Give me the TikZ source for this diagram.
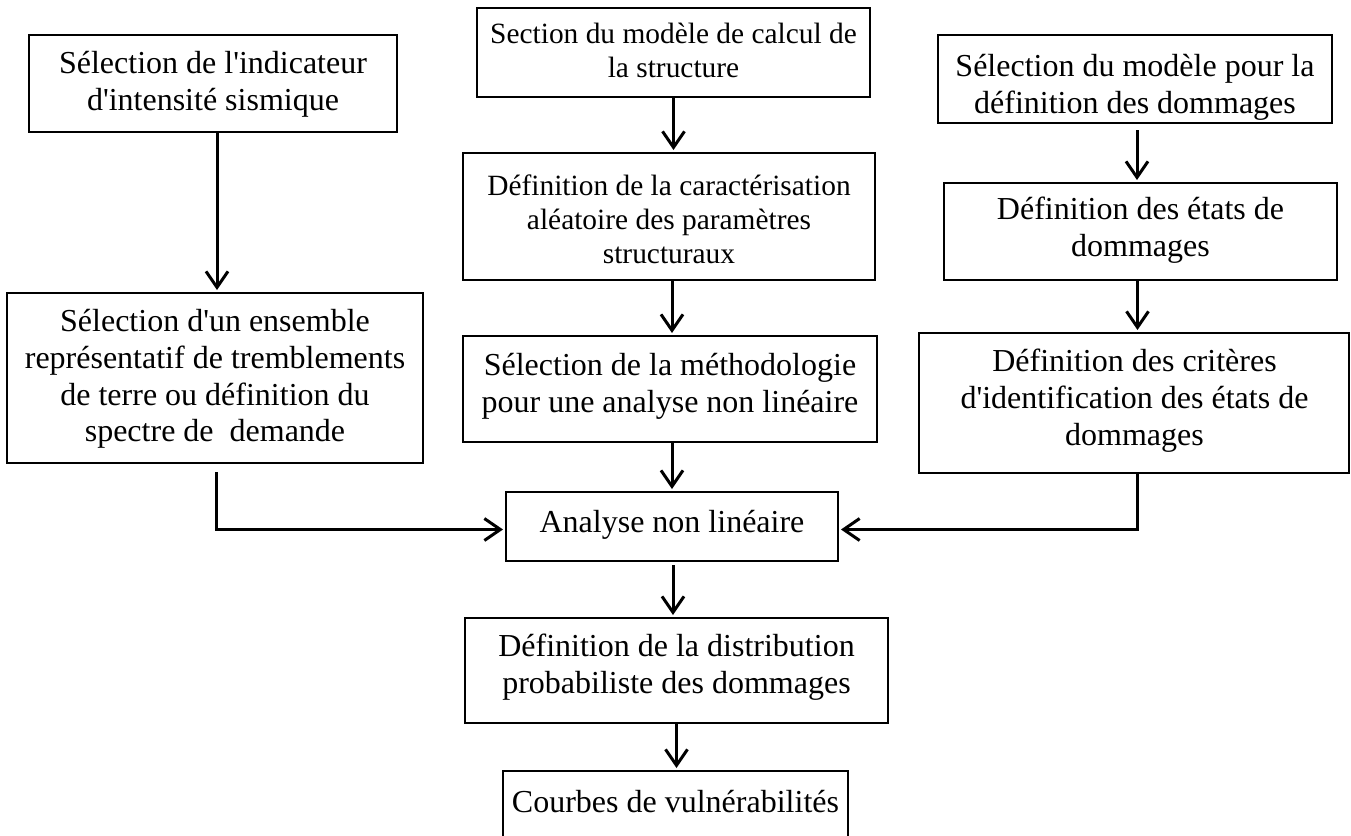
\documentclass[tikz,border=0pt]{standalone}
\usepackage{fontspec}
\setmainfont{Liberation Serif}
\usetikzlibrary{arrows.meta}
\newcommand\apos{\textquotesingle}

\begin{document}
\begin{tikzpicture}[x=0.5pt,y=-0.5pt,
  box/.style={draw, line width=0.9pt, rectangle, inner sep=0pt, outer sep=0pt},
  txt/.style={align=center, inner sep=0pt, font=\fontsize{16pt}{18.4pt}\selectfont,
    execute at begin node=\strut, execute at end node=\strut},
  smalltxt/.style={font=\fontsize{14.7pt}{16.9pt}\selectfont},
  arr/.style={line width=1.5pt, -{Straight Barb[length=8pt,width=11pt]}, shorten >=1.5pt}]
\useasboundingbox (0,0) rectangle (1351,836);
\clip (0,0) rectangle (1351,836);

% boxes
\node[box, minimum width=184pt,   minimum height=48.5pt] (b1)  at (213,83.5)    {};
\node[box, minimum width=196.5pt, minimum height=44.5pt] (b2)  at (673.5,52.5)  {};
\node[box, minimum width=197pt,   minimum height=44pt]   (b3)  at (1135,79)     {};
\node[box, minimum width=206pt,   minimum height=63.5pt] (b4)  at (669,216.5)   {};
\node[box, minimum width=196.5pt, minimum height=48.5pt] (b5)  at (1140.5,231.5){};
\node[box, minimum width=208pt,   minimum height=85pt]   (b6)  at (215,378)     {};
\node[box, minimum width=207pt,   minimum height=53pt]   (b7)  at (670,389)     {};
\node[box, minimum width=215pt,   minimum height=70pt]   (b8)  at (1134,403)    {};
\node[box, minimum width=166pt,   minimum height=34.5pt] (b9)  at (672,526.5)   {};
\node[box, minimum width=211.5pt, minimum height=52.5pt] (b10) at (676.5,670.5) {};
\node[box, minimum width=172.5pt, minimum height=34pt]   (b11) at (675.5,805)   {};

% texts
\node[txt] (t1) at (213,86) {Sélection de l\apos indicateur\\d\apos intensité sismique};
\node[txt, smalltxt] (t2) at (673.5,55.7) {Section du modèle de calcul de\\la structure};
\node[txt] (t3) at (1135,89) {Sélection du modèle pour la\\définition des dommages};
\node[txt, smalltxt] (t4) at (669,224) {Définition de la caractérisation\\aléatoire des paramètres\\structuraux};
\node[txt] (t5) at (1140.5,232) {Définition des états de\\dommages};
\node[txt] (t6) at (215,381) {Sélection d\apos un ensemble\\représentatif de tremblements\\de terre ou définition du\\spectre de\ \ demande};
\node[txt] (t7) at (670,388) {Sélection de la méthodologie\\pour une analyse non linéaire};
\node[txt] (t8) at (1134.5,403) {Définition des critères\\d\apos identification des états de\\dommages};
\node[txt] (t9) at (672,525.6) {Analyse non linéaire};
\node[txt] (t10) at (676.5,669) {Définition de la distribution\\probabiliste des dommages};
\node[txt] (t11) at (675.5,805) {Courbes de vulnérabilités};

% connectors
\draw[arr] ([xshift=2pt]b1.south) -- ([xshift=2pt]b1.south |- b6.north);
\draw[arr] (b2.south) -- (b2.south |- b4.north);
\draw[arr, shorten <=3.5pt] ([xshift=1pt]b3.south) -- ([xshift=1pt]b3.south |- b5.north);
\draw[arr] ([xshift=1pt]b7.north |- b4.south) -- ([xshift=1pt]b7.north);
\draw[arr] ([xshift=-1.5pt]b5.south) -- ([xshift=-1.5pt]b5.south |- b8.north);
\draw[arr] ([xshift=1pt]b7.south) -- ([xshift=1pt]b7.south |- b9.north);
\draw[arr, shorten <=2pt] ([xshift=0.5pt]b9.south) -- ([xshift=0.5pt]b9.south |- b10.north);
\draw[arr] (b10.south) -- (b10.south |- b11.north);
\draw[arr, shorten <=4.5pt] ([xshift=0.5pt]b6.south) |- ([yshift=-1.5pt]b9.west);
\draw[arr] ([xshift=1.5pt]b8.south) |- ([yshift=-1.5pt]b9.east);
\end{tikzpicture}
\end{document}
